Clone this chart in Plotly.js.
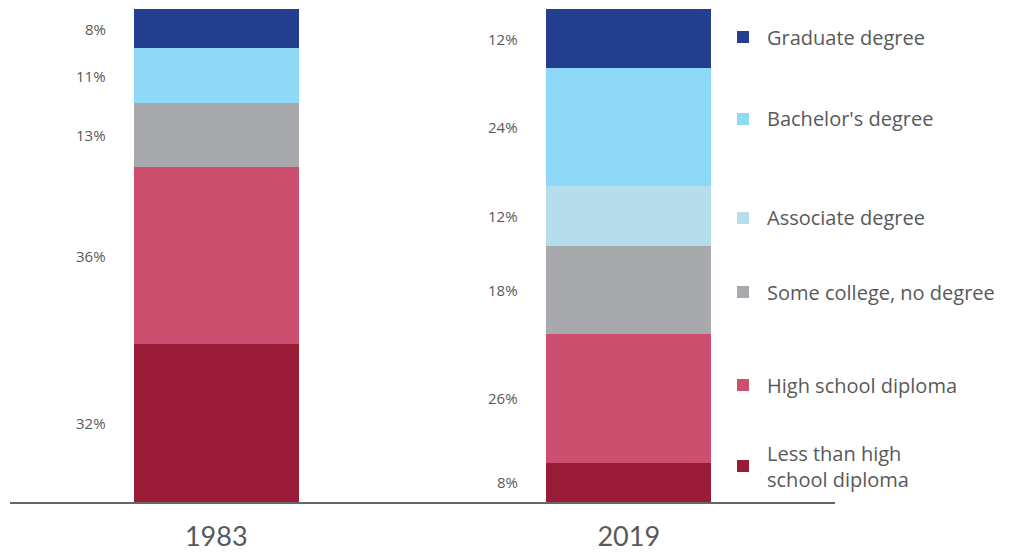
<!DOCTYPE html>
<html>
<head>
<meta charset="utf-8">
<script src="https://cdn.plot.ly/plotly-3.0.1.min.js"></script>
<style>html,body{margin:0;padding:0;background:#fff;}#chart{width:1010px;height:554px;}</style>
</head>
<body>
<div id="chart"></div>
<script>
// ---- data ----
const years = ["1983", "2019"];
const seriesNames = ["Less than high<br>school diploma", "High school diploma", "Some college, no degree", "Associate degree", "Bachelor's degree", "Graduate degree"];
const lessThanHS = [32, 8];
const highSchool = [36, 26];
const someCollege = [13, 18];
const associate = [0, 12];
const bachelors = [11, 24];
const graduate = [8, 12];
const seriesColors = ["#9A1B36", "#CD4F6F", "#A8A9AD", "#B5DDEB", "#8ED8F8", "#233E8F"];

const seriesValues = [lessThanHS, highSchool, someCollege, associate, bachelors, graduate];

// ---- layout geometry ----
const W = 1010, H = 554;
const M = {l: 10, r: 175, t: 9, b: 52};
const PW = W - M.l - M.r, PH = H - M.t - M.b;
const px2x = px => (px - M.l) / PW;
const py2y = py => (H - M.b - py) / PH;
const legendY = [466, 385, 292, 218, 119, 37]; // pixel centres of legend entries, same order as series

const textColor = "#595959";
const font = "'Open Sans', Lato, sans-serif";

const traces = seriesValues.map((vals, i) => ({
  type: "bar",
  x: years,
  y: vals,
  name: seriesNames[i],
  marker: {color: seriesColors[i], line: {width: 0}},
  width: 0.4,
  hoverinfo: "skip",
  showlegend: false
}));

const annotations = [];
const shapes = [];
// percent labels to the left of each segment
years.forEach((yr, j) => {
  let cum = 0;
  seriesValues.forEach((vals, i) => {
    const v = vals[j];
    if (v > 0) {
      annotations.push({
        x: j - 0.2, y: cum + v / 2, xref: "x", yref: "y",
        text: v + "%", showarrow: false, xanchor: "right", yanchor: "middle",
        xshift: -26, font: {family: font, size: 15, color: textColor}
      });
    }
    cum += v;
  });
});
// custom legend
seriesNames.forEach((name, i) => {
  const cy = legendY[i];
  shapes.push({
    type: "rect", xref: "paper", yref: "paper",
    x0: px2x(737), x1: px2x(749), y0: py2y(cy + 6), y1: py2y(cy - 6),
    fillcolor: seriesColors[i], line: {width: 0}
  });
  annotations.push({
    x: px2x(765), y: py2y(cy), xref: "paper", yref: "paper",
    text: name, showarrow: false, xanchor: "left", yanchor: "middle", align: "left",
    font: {family: font, size: 20, color: textColor}
  });
});

const layout = {
  width: W, height: H,
  margin: M,
  barmode: "stack",
  paper_bgcolor: "#fff", plot_bgcolor: "#fff",
  showlegend: false,
  xaxis: {
    type: "category", range: [-0.5, 1.5],
    showline: true, linecolor: "#666", linewidth: 1.5,
    ticks: "", showgrid: false, zeroline: false,
    ticklabelstandoff: 10,
    tickfont: {family: "Lato, sans-serif", size: 27, color: textColor}
  },
  yaxis: {range: [0, 100], visible: false, showgrid: false, zeroline: false, fixedrange: true},
  annotations: annotations,
  shapes: shapes
};

Plotly.newPlot("chart", traces, layout, {displayModeBar: false, staticPlot: true});
</script>
</body>
</html>
